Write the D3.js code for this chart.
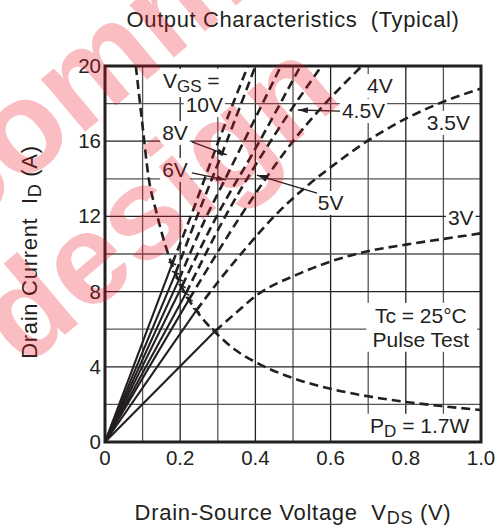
<!DOCTYPE html>
<html>
<head>
<meta charset="utf-8">
<script src="https://cdn.jsdelivr.net/npm/d3@7"></script>
<style>
  body { margin: 0; background: #fff; }
  svg text { font-family: "Liberation Sans", Arial, sans-serif; fill: #231f20; white-space: pre; }
</style>
</head>
<body>
<div id="chart"></div>
<script>
// values
var xTicks = [0, 0.2, 0.4, 0.6, 0.8, 1.0];
var xTickLabels = ["0", "0.2", "0.4", "0.6", "0.8", "1.0"];
var yTicks = [0, 4, 8, 12, 16, 20];
var xGrid = [0.1, 0.2, 0.3, 0.4, 0.5, 0.6, 0.7, 0.8, 0.9];
var yGrid = [2, 4, 6, 8, 10, 12, 14, 16, 18];

var vgs = ["10V", "8V", "6V", "5V", "4.5V", "4V", "3.5V", "3V"];
// end of the solid (linear) part of each curve, on the PD line
var solidEnd = [[0.179, 9.5], [0.188, 9.0], [0.197, 8.65], [0.205, 8.3],
                [0.215, 7.9], [0.224, 7.6], [0.243, 7.0], [0.293, 5.9]];
// dashed continuation of each curve
var dashTail = [
  [[0.228, 12], [0.30, 15.9], [0.38, 20]],
  [[0.245, 12], [0.32, 15.8], [0.40, 20]],
  [[0.27, 12], [0.32, 14], [0.468, 20]],
  [[0.297, 12], [0.40, 15.6], [0.52, 20]],
  [[0.32, 12], [0.45, 16.3], [0.576, 20]],
  [[0.36, 12], [0.50, 16], [0.683, 20]],
  [[0.30, 8.5], [0.37, 10.2], [0.45, 12.0], [0.536, 13.6], [0.606, 14.7], [0.697, 16.0], [0.8, 17.2], [0.9, 18.1], [1.0, 18.8]],
  [[0.35, 6.9], [0.403, 7.8], [0.51, 8.9], [0.6, 9.6], [0.678, 10.05], [0.8, 10.5], [0.9, 10.8], [1.0, 11.1]]
];
// PD = 1.7W line
var pdV = [0.082, 0.1, 0.115, 0.137, 0.16, 0.2, 0.25, 0.3, 0.35, 0.4, 0.5, 0.6, 0.7, 0.8, 0.9, 1.0];
var pdI = [20, 16.8, 14.2, 12.2, 10.5, 8.4, 6.8, 5.7, 4.85, 4.25, 3.4, 2.83, 2.43, 2.13, 1.9, 1.7];

var W = 501, H = 528;
var x = d3.scaleLinear().domain([0, 1]).range([105, 481]);
var y = d3.scaleLinear().domain([0, 20]).range([442, 66]);
var ink = "#231f20";

var svg = d3.select("#chart").append("svg").attr("width", W).attr("height", H);

svg.append("defs").append("clipPath").attr("id", "plot")
  .append("rect").attr("x", x(0)).attr("y", y(20)).attr("width", x(1) - x(0)).attr("height", y(0) - y(20));
svg.select("defs").append("marker").attr("id", "head")
  .attr("viewBox", "0 0 10 6").attr("refX", 10).attr("refY", 3)
  .attr("markerWidth", 10).attr("markerHeight", 6).attr("markerUnits", "userSpaceOnUse")
  .attr("orient", "auto")
  .append("path").attr("d", "M0,0 L10,3 L0,6 Z").attr("fill", ink);

// grid
svg.selectAll(".vg").data(xGrid).enter().append("line")
  .attr("x1", d => x(d)).attr("x2", d => x(d)).attr("y1", y(0)).attr("y2", y(20))
  .attr("stroke", (d, i) => i % 2 ? "#222" : "#555").attr("stroke-width", 1.3);
svg.selectAll(".hg").data(yGrid).enter().append("line")
  .attr("y1", d => y(d)).attr("y2", d => y(d)).attr("x1", x(0)).attr("x2", x(1))
  .attr("stroke", (d, i) => i % 2 ? "#222" : "#555").attr("stroke-width", 1.3);

// white boxes behind the annotations
var boxes = svg.append("g");
var ann = svg.append("g");

function label(parts, vx, iy, anchor) {
  var t = ann.append("text").attr("x", x(vx)).attr("y", y(iy))
    .attr("font-size", 21).attr("text-anchor", anchor || "start");
  parts.forEach(function (p) {
    var s = t.append("tspan").text(p[0]);
    if (p[1] === "sub") s.attr("font-size", 17).attr("dy", 4);
    if (p[1] === "up") s.attr("dy", -4);
  });
  return t;
}
function pad(t, p) {
  var b = t.node().getBBox();
  boxes.append("rect").attr("x", b.x - p).attr("y", b.y - p + 2)
    .attr("width", b.width + 2 * p).attr("height", b.height + 2 * p - 3).attr("fill", "#fff");
}

pad(label([["V"], ["GS", "sub"], [" =", "up"]], 0.154, 18.83), 2);
pad(label([["10V"]], 0.314, 17.55, "end"), 2);
pad(label([["8V"]], 0.152, 16.06), 2);
pad(label([["6V"]], 0.152, 14.1), 2);
pad(label([["5V"]], 0.566, 12.34), 2);
pad(label([["4.5V"]], 0.630, 17.23), 2);
pad(label([["4V"]], 0.697, 18.56), 2);
pad(label([["3.5V"]], 0.856, 16.6), 2);
pad(label([["3V"]], 0.912, 11.54), 2);

boxes.append("rect").attr("x", x(0.695)).attr("y", y(7.4)).attr("width", x(0.99) - x(0.695))
  .attr("height", y(4.8) - y(7.4)).attr("fill", "#fff");
label([["Tc = 25°C"]], 0.84, 6.33, "middle");
label([["Pulse Test"]], 0.84, 5.05, "middle");
boxes.append("rect").attr("x", x(0.695)).attr("y", y(1.5)).attr("width", x(0.99) - x(0.695))
  .attr("height", y(0.05) - y(1.5)).attr("fill", "#fff");
label([["P"], ["D", "sub"], [" = 1.7W", "up"]], 0.705, 0.48);

// curves
var line = d3.line().x(d => x(d[0])).y(d => y(d[1]));
var curve = d3.line().x(d => x(d[0])).y(d => y(d[1])).curve(d3.curveMonotoneX);
var plot = svg.append("g").attr("clip-path", "url(#plot)");

plot.selectAll(".solid").data(solidEnd).enter().append("path")
  .attr("d", d => line([[0, 0], d]))
  .attr("fill", "none").attr("stroke", ink).attr("stroke-width", 2.1);
plot.selectAll(".dash").data(dashTail).enter().append("path")
  .attr("d", (d, i) => curve([solidEnd[i]].concat(d)))
  .attr("fill", "none").attr("stroke", ink).attr("stroke-width", 2.6)
  .attr("stroke-dasharray", "9,5");
plot.append("path").datum(pdV.map((v, i) => [v, pdI[i]]))
  .attr("d", curve).attr("fill", "none").attr("stroke", ink)
  .attr("stroke-width", 2.6).attr("stroke-dasharray", "9,5");

// short cross mark where each solid part ends
plot.selectAll(".endmark").data(solidEnd).enter().append("line")
  .each(function (d) {
    var px = x(d[0]), py = y(d[1]);
    var len = Math.hypot(px - x(0), py - y(0));
    var nx = -(py - y(0)) / len, ny = (px - x(0)) / len;
    d3.select(this).attr("x1", px - nx * 4).attr("y1", py - ny * 4)
      .attr("x2", px + nx * 4).attr("y2", py + ny * 4);
  })
  .attr("stroke", ink).attr("stroke-width", 1.6);

// arrows
var arrows = [
  [[0.231, 15.96], [0.324, 15.27]],
  [[0.231, 14.31], [0.322, 13.94]],
  [[0.564, 13.24], [0.404, 14.2]],
  [[0.625, 17.6], [0.513, 17.66]]
];
svg.selectAll(".arrow").data(arrows).enter().append("path")
  .attr("d", line).attr("stroke", ink).attr("stroke-width", 1.3)
  .attr("fill", "none").attr("marker-end", "url(#head)");

// frame
svg.append("rect").attr("x", x(0)).attr("y", y(20)).attr("width", x(1) - x(0))
  .attr("height", y(0) - y(20)).attr("fill", "none").attr("stroke", ink).attr("stroke-width", 3);

// tick labels
svg.selectAll(".xt").data(xTicks).enter().append("text")
  .attr("x", d => x(d)).attr("y", 465).attr("text-anchor", "middle")
  .attr("font-size", 20.5).text((d, i) => xTickLabels[i]);
svg.selectAll(".yt").data(yTicks).enter().append("text")
  .attr("x", 101).attr("y", d => y(d) + 7).attr("text-anchor", "end")
  .attr("font-size", 20.5).text(d => d);

// titles
svg.append("text").attr("x", 293).attr("y", 27).attr("text-anchor", "middle")
  .attr("font-size", 22).attr("letter-spacing", 0.6).text("Output Characteristics  (Typical)");
var xl = svg.append("text").attr("x", 293).attr("y", 520).attr("text-anchor", "middle")
  .attr("font-size", 22).attr("letter-spacing", 0.7);
xl.append("tspan").text("Drain-Source Voltage  V");
xl.append("tspan").text("DS").attr("font-size", 18).attr("dy", 4);
xl.append("tspan").text(" (V)").attr("dy", -4);
var yl = svg.append("text").attr("transform", "translate(37,252) rotate(-90)")
  .attr("text-anchor", "middle").attr("font-size", 22).attr("letter-spacing", 0.7);
yl.append("tspan").text("Drain Current  I");
yl.append("tspan").text("D").attr("font-size", 18).attr("dy", 4);
yl.append("tspan").text(" (A)").attr("dy", -4);

// watermark
var wm = svg.append("g").attr("opacity", 0.27);
wm.append("text").attr("transform", "translate(-132,314) rotate(-40)")
  .style("fill", "#ee1122").style("font-weight", "bold").style("font-size", "130px")
  .text("recommended");
wm.append("text").attr("transform", "translate(345,100) rotate(-40)")
  .attr("text-anchor", "end")
  .style("fill", "#ee1122").style("font-weight", "bold").style("font-size", "130px")
  .text("for new design");
</script>
</body>
</html>
